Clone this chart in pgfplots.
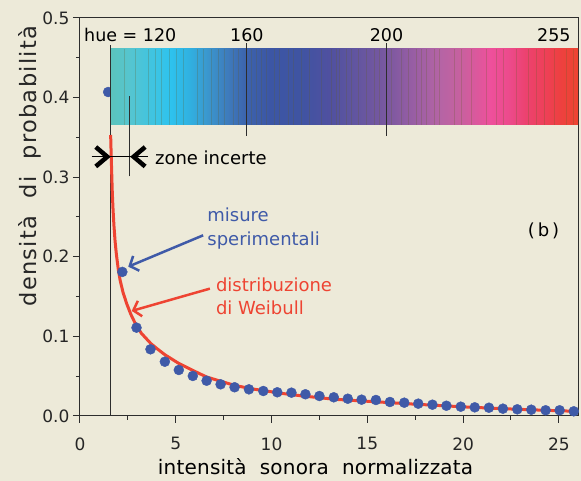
\documentclass[border=0pt]{standalone}
\usepackage{fontspec}
\setmainfont{DejaVu Sans}
\newfontfamily\ylabfont[LetterSpace=6]{DejaVu Sans}
\newfontfamily\xlabfont[LetterSpace=1]{DejaVu Sans}
\usepackage{pgfplots}
\pgfplotsset{compat=1.18}
\usetikzlibrary{arrows.meta}
\definecolor{bg}{RGB}{237,234,217}
\definecolor{dotblue}{RGB}{63,90,168}
\definecolor{curvered}{RGB}{238,68,50}
\definecolor{axgray}{RGB}{45,45,45}
\definecolor{h1}{HTML}{5BC3BC}
\definecolor{h2}{HTML}{55C5D0}
\definecolor{h3}{HTML}{2EC3EE}
\definecolor{h4}{HTML}{30B0E0}
\definecolor{h5}{HTML}{3A9AD0}
\definecolor{h6}{HTML}{3E78BA}
\definecolor{h7}{HTML}{3C62AC}
\definecolor{h8}{HTML}{3C56A5}
\definecolor{h9}{HTML}{3F54A2}
\definecolor{h10}{HTML}{5050A0}
\definecolor{h11}{HTML}{5A54A0}
\definecolor{h12}{HTML}{7A58A0}
\definecolor{h13}{HTML}{A05FA5}
\definecolor{h14}{HTML}{B564A5}
\definecolor{h15}{HTML}{C7619F}
\definecolor{h16}{HTML}{E0569C}
\definecolor{h17}{HTML}{EE509C}
\definecolor{h18}{HTML}{EC4A8A}
\definecolor{h19}{HTML}{EC4270}
\definecolor{h20}{HTML}{EE4058}
\definecolor{h21}{HTML}{EE4040}
\definecolor{h22}{HTML}{EE4530}
\pgfdeclarehorizontalshading{huebar}{100bp}{color(0bp)=(h1); color(25bp)=(h1);
 color(27.03bp)=(h2); color(31.32bp)=(h3); color(33.46bp)=(h4); color(35.06bp)=(h5);
 color(37.74bp)=(h6); color(39.56bp)=(h7); color(42.02bp)=(h8); color(45.24bp)=(h9);
 color(48.45bp)=(h10); color(50.05bp)=(h11); color(54.55bp)=(h12); color(58.08bp)=(h13);
 color(60.22bp)=(h14); color(62.37bp)=(h15); color(64.51bp)=(h16); color(65.58bp)=(h17);
 color(67.72bp)=(h18); color(69.33bp)=(h19); color(71.47bp)=(h20); color(73.07bp)=(h21);
 color(75bp)=(h22); color(100bp)=(h22)}
\begin{document}
\begin{tikzpicture}
\path[use as bounding box, fill=bg] (-80pt,-65pt) rectangle (501pt,416pt);
\begin{axis}[
  scale only axis, width=498pt, height=398pt,
  xmin=0, xmax=26, ymin=0, ymax=0.5,
  clip mode=individual,
  axis line style={axgray, line width=1pt},
  xtick={0,5,10,15,20,25}, minor xtick={2.5,7.5,12.5,17.5,22.5},
  ytick={0,0.1,0.2,0.3,0.4,0.5}, minor ytick={0.05,0.15,0.25,0.35,0.45},
  tick align=outside, xtick pos=bottom, ytick pos=left,
  major tick length=7pt, minor tick length=4pt,
  every tick/.style={axgray, line width=1pt},
  ticklabel style={font=\fontsize{17}{20}\selectfont, text=black!85},
  xticklabel style={yshift=-11pt},
  /pgf/number format/assume math mode=true,
  yticklabel style={/pgf/number format/.cd, fixed, fixed zerofill, precision=1},
]
\addplot[axgray, line width=1pt] coordinates {(1.6,0) (1.6,0.466)};
\addplot[curvered, line width=3pt] coordinates {
(1.60,0.353) (1.62,0.335) (1.65,0.31) (1.68,0.285) (1.72,0.262) (1.77,0.240)
(1.83,0.220) (1.90,0.203) (2.0,0.184) (2.1,0.170) (2.25,0.155) (2.44,0.141)
(2.65,0.128) (2.87,0.117) (3.2,0.104) (3.7,0.091) (4.0,0.085) (4.43,0.077)
(5.16,0.066) (6,0.056) (6.61,0.049) (7.3,0.044) (8.07,0.0385) (9,0.034)
(9.57,0.032) (10.5,0.0285) (11.5,0.0255) (12.5,0.023) (13.3,0.021) (14.5,0.0192)
(15.5,0.0178) (17,0.0155) (18.5,0.0135) (20,0.0115) (21.5,0.0098) (23,0.0083)
(24.5,0.007) (26,0.0058)};
\addplot[only marks, mark=*, mark size=5pt, dotblue, mark options={draw=dotblue, fill=dotblue}] coordinates {
(1.47,0.407) (2.21,0.181) (2.95,0.111) (3.68,0.0838) (4.43,0.0682) (5.16,0.0578)
(5.89,0.0503) (6.61,0.0443) (7.34,0.0398) (8.07,0.0361) (8.82,0.0335) (9.57,0.0314)
(10.30,0.0298) (11.04,0.0293) (11.77,0.0273) (12.50,0.0251) (13.25,0.0235) (13.98,0.0217)
(14.70,0.0205) (15.45,0.0201) (16.18,0.0176) (16.93,0.0167) (17.66,0.0155) (18.40,0.0142)
(19.13,0.0129) (19.88,0.0117) (20.61,0.0109) (21.35,0.0104) (22.08,0.0092) (22.83,0.0084)
(23.56,0.0079) (24.31,0.0072) (25.04,0.0072) (25.78,0.0059)};
% colour bar
\shade[shading=huebar] (axis cs:1.617,0.366) rectangle (axis cs:26,0.4615);
\pgfplotsinvokeforeach{2.31,2.87,3.56,3.91,4.26,4.69,5.04,5.39,6.14,6.43,6.87,7.22,7.56,8.0,8.26,8.96,9.22,9.48,9.74,10.17,10.43,10.87,11.13,11.56,12.0,12.61,13.13,13.39,13.56,13.91,14.17,14.52,14.96,15.39,15.65,16.26,16.78,17.13,17.56,17.82,18.08,18.52,18.78,19.56,19.91,20.43,21.22,21.74,22.08,22.78,23.39,23.82,24.26,24.78,25.39,25.74}{
  \draw[black!40!olive, opacity=0.25, line width=0.7pt] (axis cs:#1,0.366) -- (axis cs:#1,0.4615);
}
\draw[axgray, line width=1pt] (axis cs:1.6,0.366) -- (axis cs:1.6,0.466);
\draw[axgray, line width=1pt] (axis cs:8.71,0.352) -- (axis cs:8.71,0.468);
\draw[axgray, line width=1pt] (axis cs:16.0,0.352) -- (axis cs:16.0,0.468);
\node[anchor=base west, inner sep=0pt, font=\fontsize{17.5}{20}\selectfont] at (axis cs:0.21,0.47) {hue = 120};
\node[anchor=base, inner sep=0pt, font=\fontsize{17.5}{20}\selectfont] at (axis cs:8.71,0.47) {160};
\node[anchor=base, inner sep=0pt, font=\fontsize{17.5}{20}\selectfont] at (axis cs:16.0,0.47) {200};
\node[anchor=base east, inner sep=0pt, font=\fontsize{17.5}{20}\selectfont] at (axis cs:25.62,0.47) {255};
% zone incerte
\draw[axgray, line width=1pt] (axis cs:2.6,0.301) -- (axis cs:2.6,0.402);
\draw[black, line width=0.8pt] (axis cs:0.61,0.3257) -- (axis cs:3.56,0.3257);
\draw[black, line width=4.5pt, miter limit=10] (axis cs:0.824,0.3379) -- (axis cs:1.424,0.3257) -- (axis cs:0.824,0.3135);
\draw[black, line width=4.5pt, miter limit=10] (axis cs:3.40,0.3379) -- (axis cs:2.80,0.3257) -- (axis cs:3.40,0.3135);
\node[anchor=base west, inner sep=0pt, font=\fontsize{18}{20}\selectfont] at (axis cs:3.91,0.316) {zone incerte};
% annotations
\node[anchor=base west, inner sep=0pt, text=dotblue, font=\fontsize{18}{20}\selectfont] at (axis cs:6.64,0.244) {misure};
\node[anchor=base west, inner sep=0pt, text=dotblue, font=\fontsize{18}{20}\selectfont] at (axis cs:6.64,0.214) {sperimentali};
\node[anchor=base west, inner sep=0pt, text=curvered, font=\fontsize{18}{20}\selectfont] at (axis cs:7.09,0.156) {distribuzione};
\node[anchor=base west, inner sep=0pt, text=curvered, font=\fontsize{18}{20}\selectfont] at (axis cs:7.09,0.127) {di Weibull};
\draw[dotblue, line width=2.5pt, -{Straight Barb[length=7pt, width=16pt]}] (axis cs:6.43,0.227) -- (axis cs:2.52,0.1876);
\draw[curvered, line width=2.5pt, -{Straight Barb[length=7pt, width=16pt]}] (axis cs:6.78,0.160) -- (axis cs:2.70,0.132);
\node[anchor=base, inner sep=0pt, font=\fontsize{18}{20}\selectfont] at (axis cs:24.2,0.225) {(\hspace{3pt}b\hspace{3pt})};
% axis labels
\node[anchor=base, inner sep=0pt, font=\xlabfont\fontsize{20}{22}\selectfont] at ([yshift=-59pt]axis cs:12.3,0) {intensità\ \ sonora\ \ normalizzata};
\node[anchor=base, inner sep=0pt, rotate=90, text=black!85, font=\ylabfont\fontsize{22.5}{25}\selectfont] at ([xshift=-43pt]axis cs:0,0.314) {densità\ \ di\ \ probabilità};
\end{axis}
\end{tikzpicture}
\end{document}
